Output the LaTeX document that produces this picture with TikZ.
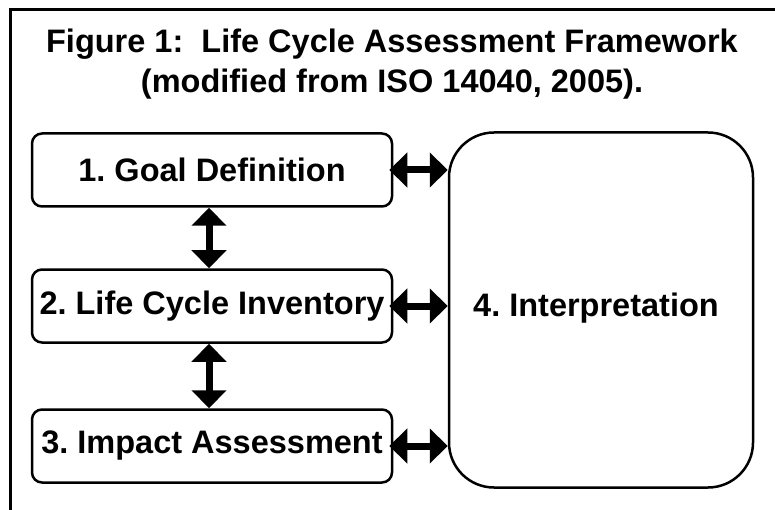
\documentclass[tikz,border=0pt]{standalone}
\usepackage{fontspec}
\setmainfont{Liberation Sans}
\frenchspacing
\usetikzlibrary{arrows.meta}
\begin{document}
\begin{tikzpicture}[x=1pt,y=-1pt,
  every node/.style={font=\fontsize{32.5}{40}\selectfont\bfseries, inner sep=0pt},
  stagebox/.style={draw, line width=2.5pt, rounded corners=10pt,
    minimum width=360pt, minimum height=73pt, anchor=center},
  bigbox/.style={draw, line width=2.5pt, rounded corners=45pt,
    minimum width=304pt, minimum height=355pt, anchor=center},
  link/.style={line width=7pt,
    {Triangle[width=34pt,length=18pt]}-{Triangle[width=34pt,length=18pt]}}
]
\useasboundingbox (0,0) rectangle (775,510);
% frame (top and left sides)
\draw[line width=3pt] (775,10) -- (10,10) -- (10,510);
% heading
\node[align=center] (title) at (392,64) {Figure 1:\ \ Life Cycle Assessment Framework\\(modified from ISO 14040, 2005).};
% stages
\node[stagebox] (goal) at (212,170) {1. Goal Definition};
\node[stagebox] (inv)  at (212,306) {2. Life Cycle Inventory};
\node[stagebox] (imp)  at (212,446) {3. Impact Assessment};
\node[bigbox]   (interp) at (601,310) {};
\node (interplabel) at (596,308) {4. Interpretation};
% vertical links
\draw[link] (goal.south -| 209,0) -- (inv.north -| 209,0);
\draw[link] (inv.south -| 209,0) -- (imp.north -| 209,0);
% horizontal links to interpretation
\draw[link] ([xshift=-4pt]goal.east) -- (goal.east -| interp.west);
\draw[link] ([xshift=-4pt]inv.east) -- (inv.east -| interp.west);
\draw[link] ([xshift=-4pt]imp.east) -- (imp.east -| interp.west);
\end{tikzpicture}
\end{document}
